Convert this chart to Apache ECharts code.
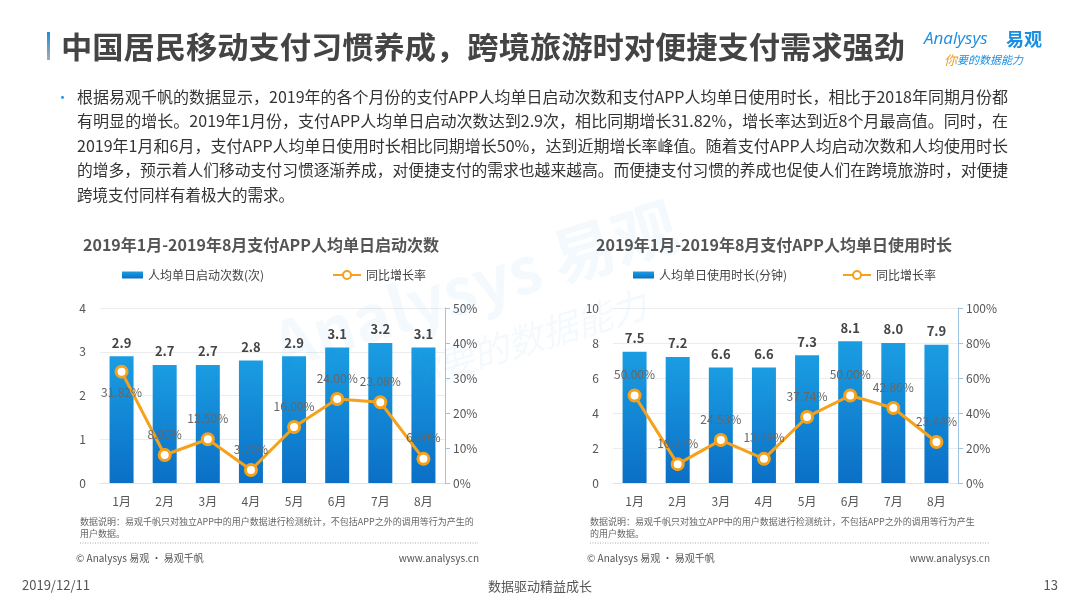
<!DOCTYPE html>
<html><head><meta charset="utf-8">
<script src="https://cdn.jsdelivr.net/npm/echarts@6/dist/echarts.min.js"></script>
<style>html,body{margin:0;padding:0;background:#fff}#c{width:1080px;height:608px}</style>
</head><body><div id="c"></div>
<script>
var months = ['1月','2月','3月','4月','5月','6月','7月','8月'];
var launchCounts = [2.9, 2.7, 2.7, 2.8, 2.9, 3.1, 3.2, 3.1];
var launchGrowth = [31.82, 8.00, 12.50, 3.70, 16.00, 24.00, 23.08, 6.90];
var usageMinutes = [7.5, 7.2, 6.6, 6.6, 7.3, 8.1, 8.0, 7.9];
var usageGrowth = [50.00, 10.77, 24.53, 13.79, 37.74, 50.00, 42.86, 23.44];
var barName1 = '人均单日启动次数(次)';
var barName2 = '人均单日使用时长(分钟)';
var lineName = '同比增长率';
var paragraph = [
 '根据易观千帆的数据显示，2019年的各个月份的支付APP人均单日启动次数和支付APP人均单日使用时长，相比于2018年同期月份都',
 '有明显的增长。2019年1月份，支付APP人均单日启动次数达到2.9次，相比同期增长31.82%，增长率达到近8个月最高值。同时，在',
 '2019年1月和6月，支付APP人均单日使用时长相比同期增长50%，达到近期增长率峰值。随着支付APP人均启动次数和人均使用时长',
 '的增多，预示着人们移动支付习惯逐渐养成，对便捷支付的需求也越来越高。而便捷支付习惯的养成也促使人们在跨境旅游时，对便捷',
 '跨境支付同样有着极大的需求。'
];

var FONT = '"Microsoft YaHei","Noto Sans CJK SC",sans-serif';
var chart = echarts.init(document.getElementById('c'));

var barColor = new echarts.graphic.LinearGradient(0,0,0,1,[{offset:0,color:'#1a9de2'},{offset:1,color:'#0b6fc6'}]);
var orange = '#f5a11c';

var measureCtx = document.createElement('canvas').getContext('2d');
function measure(text, size, weight){
  measureCtx.font = (weight||'normal') + ' ' + size + 'px ' + FONT;
  return measureCtx.measureText(text).width;
}

function lineData(arr, belowIdx){
  return arr.map(function(v,i){
    return {value:v, label:{position: belowIdx.indexOf(i)>=0 ? 'bottom':'top'}};
  });
}
function yAxisLeft(gi, max, interval){
  return {gridIndex:gi, type:'value', min:0, max:max, interval:interval,
    axisLine:{show:false}, axisTick:{show:false},
    axisLabel:{color:'#555', fontSize:12, fontFamily:FONT, margin:14},
    splitLine:{lineStyle:{color:'#ececec'}}};
}
function yAxisRight(gi, max, interval){
  return {gridIndex:gi, type:'value', min:0, max:max, interval:interval, position:'right',
    axisLine:{show:true, lineStyle:{color:'#9cc3e4'}},
    axisTick:{show:true, length:5, lineStyle:{color:'#9cc3e4'}},
    axisLabel:{color:'#555', fontSize:12, fontFamily:FONT, margin:8, formatter:'{value}%'},
    splitLine:{show:false}};
}
function xAxis(gi){
  return {gridIndex:gi, type:'category', data:months,
    axisLine:{lineStyle:{color:'#e3e3e3'}}, axisTick:{show:false},
    axisLabel:{color:'#555', fontSize:12, fontFamily:FONT, margin:12}};
}
function barSeries(name, data, xi, yi){
  return {name:name, type:'bar', xAxisIndex:xi, yAxisIndex:yi, data:data, barWidth:24,
    itemStyle:{color:barColor},
    label:{show:true, position:'top', distance:7, color:'#444', fontWeight:'bold', fontSize:13, fontFamily:FONT,
      formatter:function(p){return p.value.toFixed(1);}}};
}
function lineSeries(data, xi, yi){
  return {name:lineName, type:'line', xAxisIndex:xi, yAxisIndex:yi, data:data, z:5,
    symbol:'circle', symbolSize:11,
    lineStyle:{color:orange, width:3},
    itemStyle:{color:'#fff', borderColor:orange, borderWidth:3},
    label:{show:true, distance:8, color:'#666', fontSize:12, fontFamily:FONT,
      formatter:function(p){return p.value.toFixed(2)+'%';}}};
}
function txt(x,y,text,opt){
  opt = opt||{};
  return {type:'text', x:x, y:y, silent:true, z:opt.z||10, rotation:opt.rotation||0,
    scaleX:opt.scaleX||1, originX:0, originY:0,
    style:{text:text, fill:opt.fill||'#333', fontSize:opt.size||12, fontWeight:opt.weight||'normal',
      fontFamily:opt.family||FONT, fontStyle:opt.style||'normal',
      textAlign:opt.align||'left', textVerticalAlign:opt.valign||'middle', opacity:opt.opacity==null?1:opt.opacity}};
}

var g = [];
// watermark
g.push(txt(475,285,'Analysys 易观',{fill:'#1a8ee0',size:64,weight:'bold',align:'center',rotation:0.3,opacity:0.05,z:0}));
g.push(txt(525,340,'你要的数据能力',{fill:'#1a8ee0',size:36,align:'center',rotation:0.3,opacity:0.05,z:0,style:'italic'}));
// title bar
g.push({type:'rect', shape:{x:47,y:32,width:3,height:28}, silent:true,
  style:{fill:new echarts.graphic.LinearGradient(0,0,0,1,[{offset:0,color:'#1a8ee0'},{offset:1,color:'#aaaaaa'}])}});
var titleText = '中国居民移动支付习惯养成，跨境旅游时对便捷支付需求强劲';
var titleW = measure(titleText, 30, 'bold');
g.push(txt(61,47,titleText,{fill:'#444',size:30,weight:'bold',scaleX:844/titleW}));
// logo
g.push(txt(924,39,'Analysys',{fill:'#1a8ee0',size:17,family:'"Open Sans",sans-serif',style:'italic'}));
g.push(txt(1006,39,'易观',{fill:'#1a8ee0',size:18,weight:'bold'}));
g.push(txt(944,60,'你',{fill:'#f09a1a',size:13,style:'italic'}));
g.push(txt(957,60,'要的数据能力',{fill:'#1a8ee0',size:11,style:'italic'}));
// bullet paragraph
g.push(txt(56,97,'•',{fill:'#1a8ee0',size:13}));
paragraph.forEach(function(line,i){
  var sx = 1;
  if (i < paragraph.length-1) { sx = 931 / measure(line, 15.5); }
  g.push(txt(77,97+i*24.5,line,{fill:'#333',size:15.5,scaleX:sx}));
});
// chart titles
g.push(txt(83,245,'2019年1月-2019年8月支付APP人均单日启动次数',{fill:'#555',size:16,weight:'bold'}));
g.push(txt(596,245,'2019年1月-2019年8月支付APP人均单日使用时长',{fill:'#555',size:16,weight:'bold'}));
// notes
g.push(txt(80,522,'数据说明：易观千帆只对独立APP中的用户数据进行检测统计，不包括APP之外的调用等行为产生的',{fill:'#666',size:9}));
g.push(txt(80,534,'用户数据。',{fill:'#666',size:9}));
g.push(txt(590,522,'数据说明：易观千帆只对独立APP中的用户数据进行检测统计，不包括APP之外的调用等行为产生',{fill:'#666',size:9}));
g.push(txt(590,534,'的用户数据。',{fill:'#666',size:9}));
g.push({type:'line', silent:true, shape:{x1:80,y1:543,x2:478,y2:543}, style:{stroke:'#aaa',lineWidth:1,lineDash:[1,1.5]}});
g.push({type:'line', silent:true, shape:{x1:590,y1:543,x2:990,y2:543}, style:{stroke:'#aaa',lineWidth:1,lineDash:[1,1.5]}});
g.push(txt(76,558,'© Analysys 易观 · 易观千帆',{fill:'#555',size:10}));
g.push(txt(479,558,'www.analysys.cn',{fill:'#555',size:10,align:'right'}));
g.push(txt(587,558,'© Analysys 易观 · 易观千帆',{fill:'#555',size:10}));
g.push(txt(990,558,'www.analysys.cn',{fill:'#555',size:10,align:'right'}));
// page footer
g.push(txt(22,585,'2019/12/11',{fill:'#555',size:13}));
g.push(txt(540,586,'数据驱动精益成长',{fill:'#555',size:13,align:'center'}));
g.push(txt(1058,585,'13',{fill:'#555',size:13,align:'right'}));

var legendBase = {orient:'horizontal', itemGap:4, textStyle:{color:'#444', fontSize:12, fontFamily:FONT}, selectedMode:false};
function legend(name, left, isBar){
  var o = Object.assign({}, legendBase, {data:[name], left:left, top:264,
    itemWidth: isBar?21:28, itemHeight: isBar?7:10});
  if (isBar) o.icon = 'rect';
  return o;
}

chart.setOption({
  animation:false,
  textStyle:{fontFamily:FONT},
  graphic:g,
  legend:[legend(barName1,117,true), legend(lineName,327,false), legend(barName2,628,true), legend(lineName,837,false)],
  grid:[
    {left:100, top:308, width:345, height:175},
    {left:613, top:308, width:345, height:175}
  ],
  xAxis:[xAxis(0), xAxis(1)],
  yAxis:[yAxisLeft(0,4,1), yAxisRight(0,50,10), yAxisLeft(1,10,2), yAxisRight(1,100,20)],
  series:[
    barSeries(barName1, launchCounts, 0, 0),
    lineSeries(lineData(launchGrowth,[0]), 0, 1),
    barSeries(barName2, usageMinutes, 1, 2),
    lineSeries(lineData(usageGrowth,[]), 1, 3)
  ]
});
</script></body></html>
